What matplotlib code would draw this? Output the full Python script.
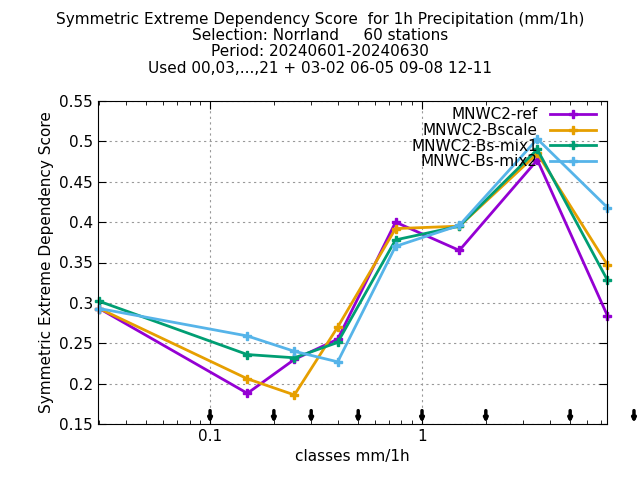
import matplotlib
matplotlib.use('Agg')
import matplotlib.pyplot as plt
from matplotlib.ticker import FixedLocator, NullFormatter, LogLocator

classes = [0.03, 0.15, 0.25, 0.4, 0.75, 1.5, 3.5, 7.5]
series = {
    'MNWC2-ref':      [0.293, 0.188, 0.230, 0.255, 0.400, 0.365, 0.477, 0.284],
    'MNWC2-Bscale':   [0.293, 0.206, 0.186, 0.270, 0.392, 0.395, 0.485, 0.347],
    'MNWC2-Bs-mix1':  [0.302, 0.236, 0.232, 0.251, 0.378, 0.395, 0.490, 0.328],
    'MNWC-Bs-mix2':   [0.293, 0.259, 0.240, 0.227, 0.370, 0.396, 0.503, 0.418],
}
colors = ['#9400d3', '#e69f00', '#009e73', '#56b4e9']
arrows = [0.1, 0.2, 0.3, 0.5, 1, 2, 5, 10]

fig = plt.figure(figsize=(6.4, 4.8), dpi=100)
ax = fig.add_axes([98/640, 1-424/480, (607-98)/640, (424-101)/480])

for (name, vals), c in zip(series.items(), colors):
    ax.plot(classes, vals, color=c, lw=2, marker='P', ms=6, label=name, clip_on=False)

ax.set_xscale('log')
ax.set_xlim(0.0296, 7.46)
ax.set_ylim(0.15, 0.55)
ax.set_yticks([0.15, 0.2, 0.25, 0.3, 0.35, 0.4, 0.45, 0.5, 0.55])
ax.set_yticklabels(['0.15', '0.2', '0.25', '0.3', '0.35', '0.4', '0.45', '0.5', '0.55'])
ax.xaxis.set_major_locator(FixedLocator([0.1, 1]))
ax.set_xticklabels(['0.1', '1'])
ax.xaxis.set_minor_locator(LogLocator(subs=range(2, 10)))
ax.xaxis.set_minor_formatter(NullFormatter())
ax.tick_params(which='both', direction='in', top=True, right=True, labelsize=11)
ax.tick_params(which='major', length=6)
ax.tick_params(which='minor', length=3)
ax.grid(True, which='major', color='#999999', ls=(0, (2, 3)), lw=0.8)

for a in arrows:
    ax.annotate('', xy=(a, -0.005), xytext=(a, 0.05), xycoords=('data', 'axes fraction'),
                arrowprops=dict(arrowstyle='-|>', color='black', lw=2.5, mutation_scale=5),
                annotation_clip=False)

ax.set_xlabel('classes mm/1h', fontsize=11)
ax.set_ylabel('Symmetric Extreme Dependency Score', fontsize=11)
ax.legend(loc='upper right', frameon=False, fontsize=11, markerfirst=False,
          handlelength=3, borderaxespad=0.0, labelspacing=0.05,
          bbox_to_anchor=(0.99, 1.0))

fig.text(0.5, 0.975, 'Symmetric Extreme Dependency Score  for 1h Precipitation (mm/1h)\n'
         'Selection: Norrland     60 stations\nPeriod: 20240601-20240630\n'
         'Used 00,03,...,21 + 03-02 06-05 09-08 12-11',
         ha='center', va='top', fontsize=11, linespacing=1.1)

fig.savefig('out.png', dpi=100)
